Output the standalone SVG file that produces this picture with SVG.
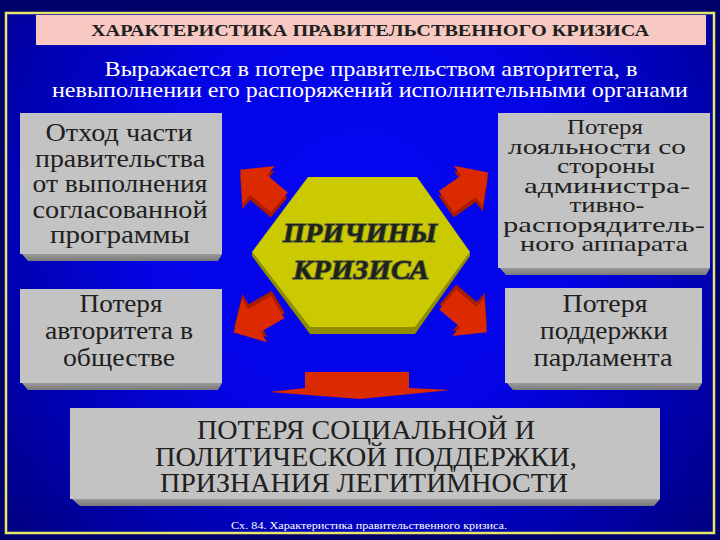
<svg xmlns="http://www.w3.org/2000/svg" xmlns:xlink="http://www.w3.org/1999/xlink" width="720" height="540" viewBox="0 0 720 540">
<defs>
<radialGradient id="bg" cx="360" cy="220" r="470" gradientUnits="userSpaceOnUse">
<stop offset="0" stop-color="#0606f4"/>
<stop offset="0.45" stop-color="#0404e6"/>
<stop offset="0.8" stop-color="#0000a8"/>
<stop offset="1" stop-color="#000080"/>
</radialGradient>
<linearGradient id="bev" x1="0" y1="0" x2="0" y2="1">
<stop offset="0" stop-color="#9a9a9a"/>
<stop offset="1" stop-color="#7a7a7a"/>
</linearGradient>
<path id="arr" d="M-24,-13 L3,-13 L3,-25 L27,0 L3,25 L3,13 L-24,13 Z"/>
<style>
.box{fill:#c3c3c3}
.bev{fill:url(#bev)}
.t{font-family:"Liberation Serif","DejaVu Serif","Times New Roman",serif;fill:#202020;text-anchor:middle}
.w{font-family:"Liberation Serif","DejaVu Serif","Times New Roman",serif;fill:#ffffff;text-anchor:middle}
.h{font-family:"Liberation Serif","DejaVu Serif",serif;font-size:27px;font-weight:bold;font-style:italic;fill:#1c2418;stroke:#72723a;stroke-width:1.6;paint-order:stroke;text-anchor:middle}
.ar{fill:#dc2a00}
.ars{fill:#a81c00}
</style>
</defs>
<rect width="720" height="540" fill="#00006a"/>
<rect x="6" y="13" width="708" height="520" fill="url(#bg)" stroke="#e6e66a" stroke-width="2.5"/>

<g id="title">
<rect x="36" y="15" width="670" height="30" fill="#f7c9c2"/>
<text class="t" x="370" y="36" font-size="16" font-weight="bold" fill="#301818" textLength="558" lengthAdjust="spacingAndGlyphs">ХАРАКТЕРИСТИКА ПРАВИТЕЛЬСТВЕННОГО КРИЗИСА</text>
</g>

<g id="subtitle">
<text class="w" x="371" y="76" font-size="22" textLength="533" lengthAdjust="spacingAndGlyphs">Выражается в потере правительством авторитета, в</text>
<text class="w" x="370" y="97" font-size="22" textLength="636" lengthAdjust="spacingAndGlyphs">невыполнении его распоряжений исполнительными органами</text>
</g>

<g id="connectors">
<g transform="translate(261,187) rotate(-140)"><use xlink:href="#arr" class="ars" transform="translate(-3,-4)"/><use xlink:href="#arr" class="ar"/></g>
<g transform="translate(466,188) rotate(-35)"><use xlink:href="#arr" class="ars" transform="translate(-3,4)"/><use xlink:href="#arr" class="ar"/></g>
<g transform="translate(257,319) rotate(150)"><use xlink:href="#arr" class="ars" transform="translate(-3,4)"/><use xlink:href="#arr" class="ar"/></g>
<g transform="translate(466,315) rotate(40)"><use xlink:href="#arr" class="ars" transform="translate(-3,-4)"/><use xlink:href="#arr" class="ar"/></g>
<polygon class="ar" points="305,372 409,372 409,388 451,390 360,399 269,392 305,388"/>
</g>

<g id="center">
<polygon points="310,326 415,326 470,252 470,256 415,334 310,334 252,256 252,252" fill="#8e8c00"/>
<polygon points="252,252 308,177 417,177 470,252 415,327 310,327" fill="#cbc900"/>
<text class="h" x="360" y="242" textLength="154" lengthAdjust="spacingAndGlyphs">ПРИЧИНЫ</text>
<text class="h" x="361" y="279" textLength="136" lengthAdjust="spacingAndGlyphs">КРИЗИСА</text>
</g>

<g id="box1">
<rect class="box" x="20" y="113" width="202" height="141"/>
<polygon class="bev" points="22,254 222,254 218,261 28,261"/>
<text class="t" font-size="25" x="119" y="141" textLength="147" lengthAdjust="spacingAndGlyphs">Отход части</text>
<text class="t" font-size="25" x="120" y="166.5" textLength="170" lengthAdjust="spacingAndGlyphs">правительства</text>
<text class="t" font-size="25" x="120" y="192" textLength="175" lengthAdjust="spacingAndGlyphs">от выполнения</text>
<text class="t" font-size="25" x="120" y="217.5" textLength="175" lengthAdjust="spacingAndGlyphs">согласованной</text>
<text class="t" font-size="25" x="120" y="243" textLength="140" lengthAdjust="spacingAndGlyphs">программы</text>
</g>

<g id="box2">
<rect class="box" x="20" y="289" width="202" height="94"/>
<polygon class="bev" points="22,383 222,383 218,390 28,390"/>
<text class="t" font-size="25" x="121" y="312" textLength="83" lengthAdjust="spacingAndGlyphs">Потеря</text>
<text class="t" font-size="25" x="119" y="339" textLength="148" lengthAdjust="spacingAndGlyphs">авторитета в</text>
<text class="t" font-size="25" x="119" y="366" textLength="112" lengthAdjust="spacingAndGlyphs">обществе</text>
</g>

<g id="box3">
<rect class="box" x="498" y="113" width="212" height="155"/>
<polygon class="bev" points="500,268 710,268 706,275 506,275"/>
<text class="t" font-size="22" x="605" y="134" textLength="76" lengthAdjust="spacingAndGlyphs">Потеря</text>
<text class="t" font-size="22" x="597" y="153.5" textLength="178" lengthAdjust="spacingAndGlyphs">лояльности со</text>
<text class="t" font-size="22" x="606" y="173" textLength="98" lengthAdjust="spacingAndGlyphs">стороны</text>
<text class="t" font-size="22" x="607" y="192.5" textLength="166" lengthAdjust="spacingAndGlyphs">администра-</text>
<text class="t" font-size="22" x="607" y="212" textLength="75" lengthAdjust="spacingAndGlyphs">тивно-</text>
<text class="t" font-size="22" x="604" y="231.5" textLength="202" lengthAdjust="spacingAndGlyphs">распорядитель-</text>
<text class="t" font-size="22" x="604" y="251" textLength="168" lengthAdjust="spacingAndGlyphs">ного аппарата</text>
</g>

<g id="box4">
<rect class="box" x="505" y="288" width="197" height="95"/>
<polygon class="bev" points="507,383 702,383 698,390 513,390"/>
<text class="t" font-size="25" x="605" y="312" textLength="85" lengthAdjust="spacingAndGlyphs">Потеря</text>
<text class="t" font-size="25" x="604" y="339" textLength="128" lengthAdjust="spacingAndGlyphs">поддержки</text>
<text class="t" font-size="25" x="603" y="366" textLength="139" lengthAdjust="spacingAndGlyphs">парламента</text>
</g>

<g id="box5">
<rect class="box" x="70" y="408" width="590" height="91"/>
<polygon class="bev" points="72,499 660,499 654,506 80,506"/>
<text class="t" font-size="27" x="366" y="439" textLength="338" lengthAdjust="spacingAndGlyphs">ПОТЕРЯ СОЦИАЛЬНОЙ И</text>
<text class="t" font-size="27" x="366" y="466" textLength="422" lengthAdjust="spacingAndGlyphs">ПОЛИТИЧЕСКОЙ ПОДДЕРЖКИ,</text>
<text class="t" font-size="27" x="364" y="492" textLength="408" lengthAdjust="spacingAndGlyphs">ПРИЗНАНИЯ ЛЕГИТИМНОСТИ</text>
</g>

<g id="caption">
<text class="w" x="369" y="529" font-size="11" textLength="276" lengthAdjust="spacingAndGlyphs">Сх. 84. Характеристика правительственного кризиса.</text>
</g>
</svg>
